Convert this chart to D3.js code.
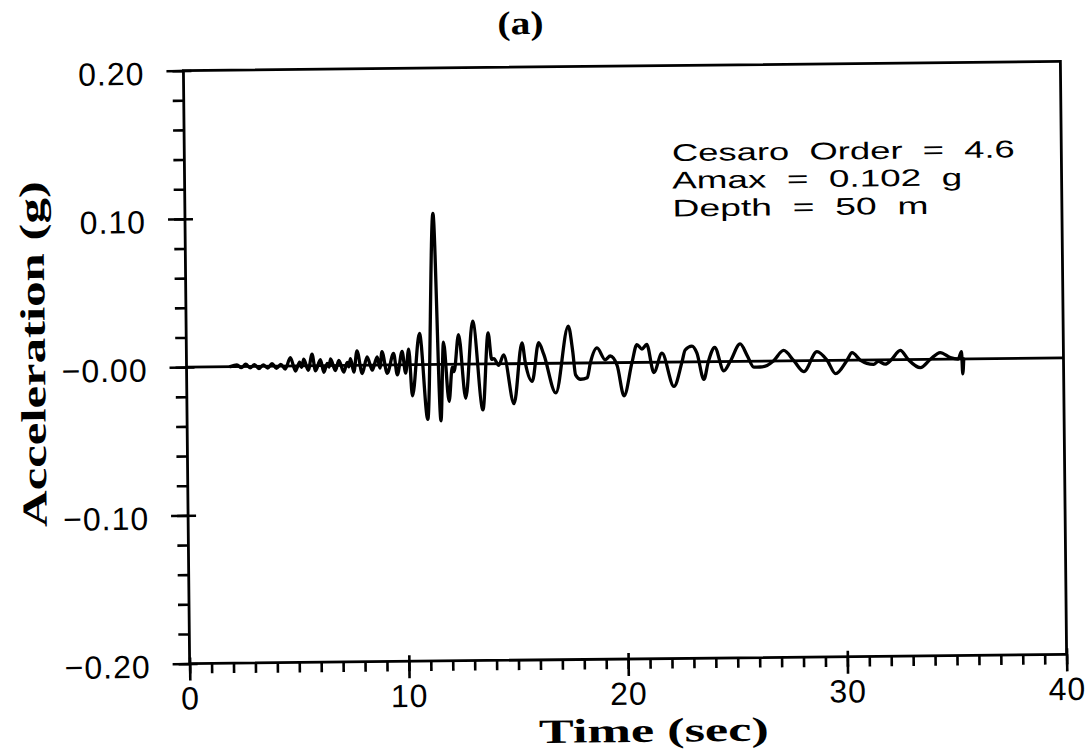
<!DOCTYPE html>
<html>
<head>
<meta charset="utf-8">
<script src="https://cdn.jsdelivr.net/npm/d3@7"></script>
<style>
html,body{margin:0;padding:0;background:#fff;}
svg{display:block;}
</style>
</head>
<body>
<script>
// ---- data ----
const times = [2.0,2.3,2.5,2.7,2.9,3.1,3.3,3.5,3.7,3.9,4.1,4.3,4.5,
  4.74,4.97,5.16,5.25,5.35,5.55,5.73,5.88,6.11,6.26,6.42,6.50,6.57,6.79,6.95,7.17,7.33,7.40,7.48,7.63,7.78,
  8.01,8.24,8.47,8.70,8.82,8.92,9.15,9.45,9.61,9.84,9.99,10.14,10.29,10.64,10.98,11.31,11.58,11.73,11.96,
  12.12,12.20,12.42,12.72,13.07,13.50,13.77,13.92,14.02,14.24,14.47,14.92,15.31,15.46,15.76,16.07,16.30,
  16.83,17.43,17.62,17.74,17.97,18.27,18.42,18.73,19.10,19.33,19.64,19.94,20.32,20.55,20.78,21.00,21.31,
  21.69,22.22,22.60,22.75,23.06,23.28,23.59,23.80,24.10,24.50,24.80,25.26,25.57,25.87,26.17,26.48,26.77,
  27.24,27.70,28.15,28.76,29.22,29.60,30.13,30.36,30.73,31.34,31.55,31.87,32.15,32.56,32.92,33.47,33.93,
  34.38,34.84,35.20,35.35,35.40,35.45];
const accel = [0,0.0012,-0.0008,0.0015,-0.001,0.0012,-0.0015,0.001,-0.0012,0.0018,-0.0015,0.0012,-0.002,
  0.0056,-0.0034,0.0025,-0.001,0.0045,-0.003,0.0078,-0.0034,0.004,-0.0045,0.0015,-0.001,0.0045,-0.0034,0.0034,-0.0045,0.002,-0.001,0.0045,-0.0045,0.0097,
  -0.0056,0.0056,-0.0034,0.0056,-0.002,0.009,-0.0056,0.0078,-0.0067,0.009,-0.0056,0.0106,-0.021,0.021,-0.037,0.102,-0.038,0.015,-0.025,
  -0.002,-0.005,0.020,-0.023,0.029,-0.031,0.021,0.003,0.0035,-0.001,0.006,-0.027,0.014,0.0,-0.012,0.014,0.006,
  -0.020,0.025,0.008,-0.008,-0.011,-0.010,0.0,0.010,0.002,0.0045,-0.002,-0.0225,0.0,0.012,0.009,0.012,-0.007,
  0.006,-0.0165,0.0,0.008,0.0106,0.006,-0.012,0.0,0.0095,-0.0063,0.0,0.0117,0.004,-0.004,-0.004,-0.003,0.0,
  0.007,0.0,-0.0074,0.006,0.0,-0.009,0.0,0.005,0.0,-0.003,-0.001,-0.003,0.0,0.0063,0.0,-0.0056,0.0,
  0.0045,0.001,0.0,0.005,-0.010,0.0];
const xMajor = [0,10,20,30,40];
const xLabels = ["0","10","20","30","40"];
const yMajor = [0.2,0.1,0,-0.1,-0.2];
const yLabels = ["0.20","0.10","\u22120.00","\u22120.10","\u22120.20"];
const titleText = "(a)";
const xTitle = "Time (sec)";
const yTitle = "Acceleration (g)";
const notes = ["Cesaro  Order  =  4.6","Amax  =  0.102  g","Depth  =  50  m"];

// ---- layout ----
const W = 1090, H = 751;
const L = 186.5, R = 1063.5, T = 66, B = 659;
const x = d3.scaleLinear().domain([0,40]).range([L,R]);
const y = d3.scaleLinear().domain([-0.2,0.2]).range([B,T]);
const sans = "'Liberation Sans', Arial, sans-serif";
const serif = "'Liberation Serif', 'DejaVu Serif', serif";

const svg = d3.select("body").append("svg").attr("width",W).attr("height",H);
svg.append("rect").attr("width",W).attr("height",H).attr("fill","#fff");
const g = svg.append("g").attr("transform","rotate(-0.6,625,362)");

// minor x ticks
const xMinor = g.append("g").attr("transform",`translate(0,${B})`)
  .call(d3.axisBottom(x).tickValues(d3.range(0,41,1)).tickSize(10).tickSizeOuter(0).tickFormat(""));
xMinor.select(".domain").remove();
xMinor.selectAll("line").attr("stroke","#000").attr("stroke-width",2.6);

// major x ticks
const xa = g.append("g").attr("transform",`translate(0,${B})`)
  .call(d3.axisBottom(x).tickValues(xMajor).tickSize(17).tickSizeOuter(0).tickPadding(6)
    .tickFormat((d,i)=>xLabels[i]));
xa.select(".domain").remove();
xa.attr("font-size",32).attr("font-family",sans);
xa.selectAll("line").attr("stroke","#000").attr("stroke-width",2.6).attr("y1",-6);
xa.selectAll("text").attr("fill","#000").attr("letter-spacing","1px");

// minor y ticks
const yMinorG = g.append("g").attr("transform",`translate(${L},0)`)
  .call(d3.axisLeft(y).tickValues(d3.range(-10,11).map(k=>k*0.02)).tickSize(11).tickSizeOuter(0).tickFormat(""));
yMinorG.select(".domain").remove();
yMinorG.selectAll("line").attr("stroke","#000").attr("stroke-width",2.6);

// major y ticks
const ya = g.append("g").attr("transform",`translate(${L},0)`)
  .call(d3.axisLeft(y).tickValues(yMajor).tickSize(17).tickSizeOuter(0).tickPadding(22)
    .tickFormat((d,i)=>yLabels[i]));
ya.select(".domain").remove();
ya.attr("font-size",32).attr("font-family",sans);
ya.selectAll("line").attr("stroke","#000").attr("stroke-width",2.6).attr("x1",8);
ya.selectAll("text").attr("fill","#000").attr("dy","0.42em").attr("letter-spacing","1px");

// frame
g.append("rect").attr("x",L).attr("y",T).attr("width",R-L).attr("height",B-T)
  .attr("fill","none").attr("stroke","#000").attr("stroke-width",2.8);

// zero line
g.append("line").attr("x1",x(0)).attr("x2",x(40)).attr("y1",y(0)).attr("y2",y(0))
  .attr("stroke","#000").attr("stroke-width",2.8);

// signal
const line = d3.line().x(i=>x(times[i])).y(i=>y(accel[i])).curve(d3.curveMonotoneX);
g.append("path").attr("d",line(d3.range(times.length)))
  .attr("fill","none").attr("stroke","#000").attr("stroke-width",3.3)
  .attr("stroke-linejoin","round").attr("stroke-linecap","round");

// titles
g.append("text").attr("x",524).attr("y",33).attr("text-anchor","middle")
  .attr("font-family",serif).attr("font-weight","bold").attr("font-size",33)
  .attr("textLength",46).attr("lengthAdjust","spacingAndGlyphs").text(titleText);
g.append("text").attr("x",650).attr("y",742).attr("text-anchor","middle")
  .attr("font-family",serif).attr("font-weight","bold").attr("font-size",34)
  .attr("textLength",230).attr("lengthAdjust","spacingAndGlyphs").text(xTitle);
g.append("text").attr("transform","translate(45,348) rotate(-90)").attr("text-anchor","middle")
  .attr("font-family",serif).attr("font-weight","bold").attr("font-size",35)
  .attr("textLength",346).attr("lengthAdjust","spacingAndGlyphs").text(yTitle);

// annotation
const noteLens = [343,290,256];
const noteY = [161.5,189,217];
notes.forEach((t,i)=>{
  g.append("text").attr("x",674).attr("y",noteY[i])
    .attr("font-family",sans).attr("font-size",24).attr("xml:space","preserve")
    .style("white-space","pre")
    .attr("textLength",noteLens[i]).attr("lengthAdjust","spacingAndGlyphs").text(t);
});
</script>
</body>
</html>
